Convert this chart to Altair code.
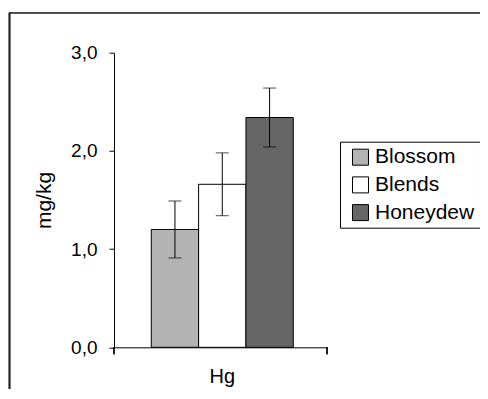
import altair as alt
import pandas as pd

categories = ["Hg"]
series = ["Blossom", "Blends", "Honeydew"]
means = [1.20, 1.66, 2.34]
errors = [0.29, 0.32, 0.30]
colors = ["#b3b3b3", "#ffffff", "#666666"]
y_ticks = [0, 1, 2, 3]

df = pd.DataFrame({
    "cat": categories * len(series),
    "series": series,
    "mean": means,
    "err": errors,
})
df["lo"] = df["mean"] - df["err"]
df["hi"] = df["mean"] + df["err"]

FONT = "Liberation Sans"
W, H = 213, 294.6

xscale = alt.Scale(paddingOuter=0.25, paddingInner=0, align=0.525)
x = alt.X("cat:N", scale=xscale, sort=categories,
          axis=alt.Axis(title=None, ticks=False, labelAngle=0, labelFontSize=20,
                        labelPadding=19, domainColor="black", labelColor="black", labelFont=FONT))
xo = alt.XOffset("series:N", sort=series, scale=alt.Scale(paddingInner=0, paddingOuter=0))

base = alt.Chart(df)

bars = base.mark_bar(stroke="black", strokeWidth=1).encode(
    x=x,
    xOffset=xo,
    y=alt.Y("mean:Q", scale=alt.Scale(domain=[0, 3], nice=False),
            axis=alt.Axis(title="mg/kg", values=y_ticks, grid=False,
                          labelExpr="replace(format(datum.value, '.1f'), '.', ',')",
                          labelFontSize=19, labelPadding=12, tickSize=5,
                          titleFontSize=21, titleFontWeight="normal", titlePadding=16,
                          domainColor="black", tickColor="black", labelColor="black",
                          titleColor="black", labelFont=FONT, titleFont=FONT)),
    fill=alt.Fill("series:N", sort=series,
                  scale=alt.Scale(domain=series, range=colors),
                  legend=alt.Legend(title=None, orient="none", legendX=226, legendY=89,
                                    strokeColor="black", fillColor="white", padding=5,
                                    symbolOffset=5, symbolType="square", symbolSize=256,
                                    symbolStrokeColor="black", symbolStrokeWidth=1,
                                    labelFontSize=21, labelFont=FONT, labelColor="black",
                                    rowPadding=5.7, labelOffset=4)),
)

rules = base.mark_rule(color="black", strokeWidth=1).encode(
    x=x, xOffset=xo, y="lo:Q", y2="hi:Q")
cap_lo = base.mark_tick(color="black", thickness=1, size=13).encode(
    x=x, xOffset=xo, y="lo:Q")
cap_hi = base.mark_tick(color="black", thickness=1, size=13).encode(
    x=x, xOffset=xo, y="hi:Q")

# axis end ticks and outer chart frame (decorations)
end_l = alt.Chart(df).mark_rule(color="black").encode(
    x=alt.value(0), y=alt.value(H), y2=alt.value(H + 7))
end_r = alt.Chart(df).mark_rule(color="black").encode(
    x=alt.value(W), y=alt.value(H), y2=alt.value(H + 7))
frame_top = alt.Chart(df).mark_rule(color="#444444", strokeWidth=1.5).encode(
    x=alt.value(-104.5), x2=alt.value(380), y=alt.value(-40))
frame_left = alt.Chart(df).mark_rule(color="#222222", strokeWidth=1.5).encode(
    x=alt.value(-104.5), y=alt.value(-40), y2=alt.value(400))

chart = alt.layer(bars, rules, cap_lo, cap_hi, end_l, end_r, frame_top, frame_left).properties(
    width=W, height=H,
    autosize=alt.AutoSizeParams(type="none"),
    padding={"left": 106, "top": 44.7, "right": 153, "bottom": 42},
).configure(background="white", view=alt.ViewConfig(strokeWidth=0))

chart.save("out.html", embed_options={"renderer": "svg", "actions": False})
